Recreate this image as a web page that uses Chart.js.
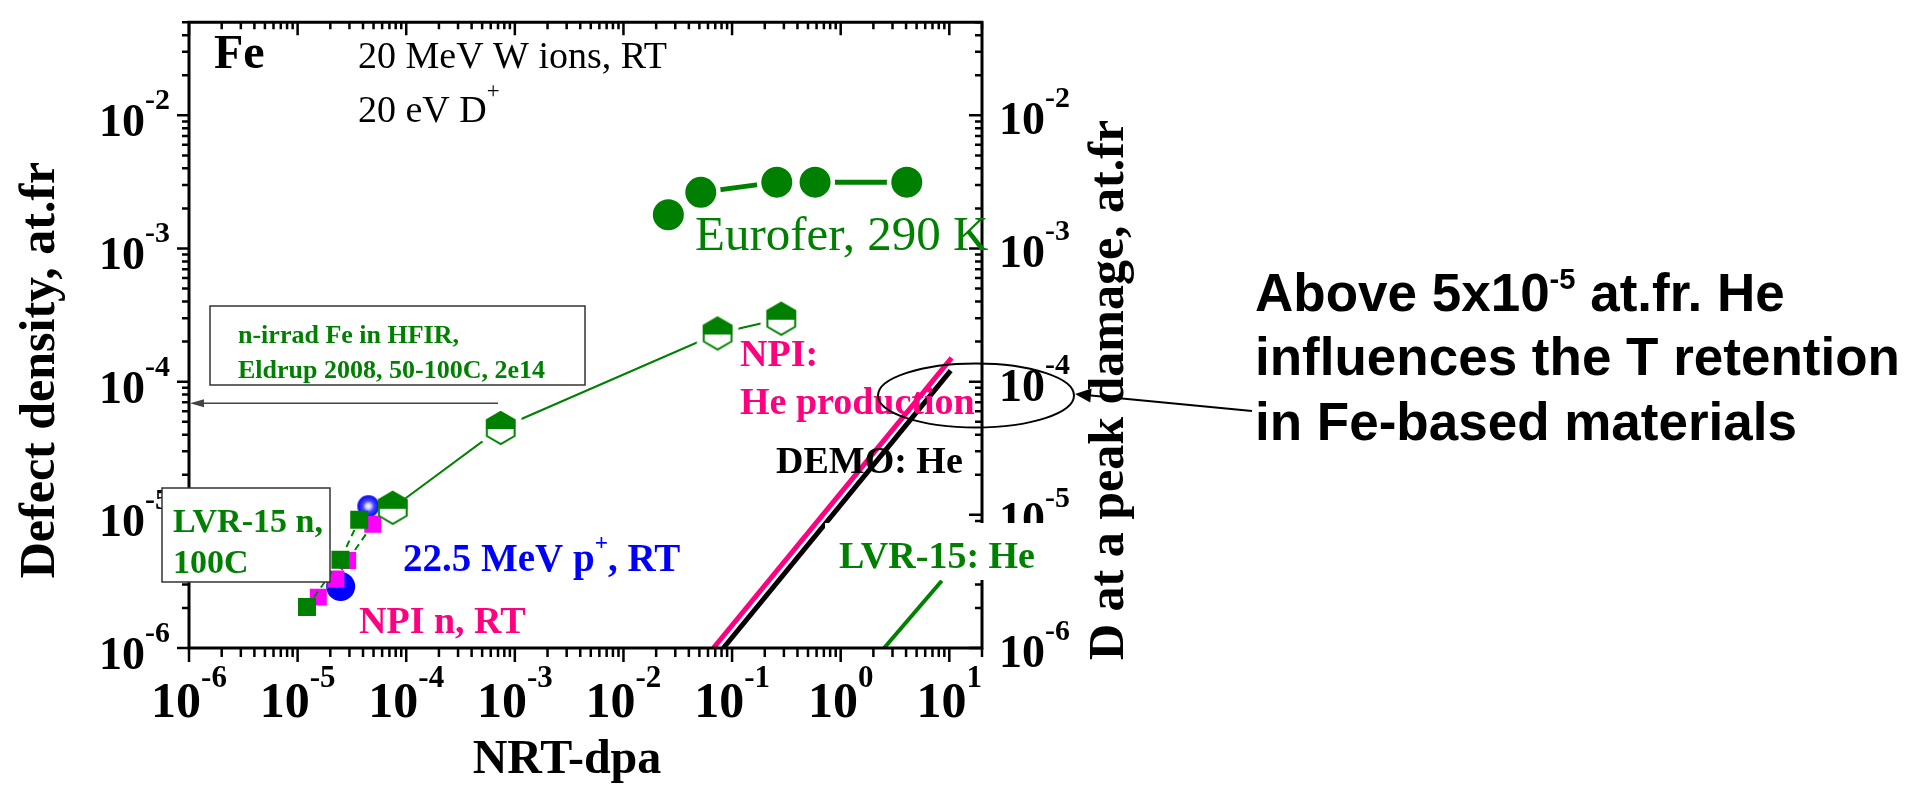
<!DOCTYPE html>
<html>
<head>
<meta charset="utf-8">
<script src="https://cdn.jsdelivr.net/npm/chart.js@4.4.1/dist/chart.umd.min.js"></script>
<style>
html, body { margin: 0; padding: 0; background: #fff; }
#chart { display: block; }
</style>
</head>
<body>
<canvas id="chart" width="1928" height="786"></canvas>
<script>
// tick exponents (labels are 10^e)
var xTickExps = [-6, -5, -4, -3, -2, -1, 0, 1];
var yTickExps = [-6, -5, -4, -3, -2];

// LVR-15 neutrons, 100C (green squares)
var lvrDpa = [1.22e-5, 2.48e-5, 3.69e-5];
var lvrDensity = [2.03e-6, 4.60e-6, 9.2e-6];

// NPI neutrons, RT (magenta squares)
var npiDpa = [1.55e-5, 2.25e-5, 2.89e-5, 4.92e-5];
var npiDensity = [2.41e-6, 3.30e-6, 4.54e-6, 8.49e-6];

// 22.5 MeV protons, RT (blue circles)
var protonDpa = [2.49e-5, 4.48e-5];
var protonDensity = [2.9e-6, 1.16e-5];

// 20 MeV W ions, RT (half filled hexagons)
var ionDpa = [7.52e-5, 7.41e-4, 0.0736, 0.284];
var ionDensity = [1.13e-5, 4.49e-5, 2.30e-4, 2.97e-4];

// Eurofer, 290 K
var euroferDpa = [0.0259, 0.0515, 0.258, 0.581, 4.06];
var euroferDensity = [1.79e-3, 2.64e-3, 3.15e-3, 3.15e-3, 3.15e-3];

// He production lines (start / end)
var npiHeDpa = [0.0673, 10.5];
var npiHeConc = [1e-6, 1.51e-4];
var demoHeDpa = [0.0832, 10.3];
var demoHeConc = [1e-6, 1.21e-4];
var lvrHeDpa = [2.51, 8.53];
var lvrHeConc = [1e-6, 3.2e-6];

// HFIR reference density pointed at on the left axis
var hfirDensity = 6.9e-5;
var hfirArrowFrom = 7e-4;

var green = '#008000', pink = '#ff0080', magenta = '#ff00ff', blue = '#0000ff';

function pts(xs, ys) {
    return xs.map(function (x, i) { return { x: x, y: ys[i] }; });
}

function serifBold(s) { return 'bold ' + s + 'px "Liberation Serif", "Times New Roman", serif'; }
function serif(s) { return s + 'px "Liberation Serif", "Times New Roman", serif'; }
function sansBold(s) { return 'bold ' + s + 'px "Liberation Sans", Arial, sans-serif'; }

// text made of runs, a run with sup:true is smaller and raised
function runs(ctx, list, x, y, fontFn, size, opt) {
    opt = opt || {};
    var supScale = opt.supScale || 0.62, rise = opt.rise || 0.55;
    var widths = list.map(function (r) {
        ctx.font = fontFn(r.sup ? size * supScale : size);
        return ctx.measureText(r.t).width;
    });
    var total = widths.reduce(function (s, w) { return s + w; }, 0);
    var cx = opt.align === 'center' ? x - total / 2 : (opt.align === 'right' ? x - total : x);
    ctx.textAlign = 'left';
    ctx.textBaseline = 'alphabetic';
    list.forEach(function (r, i) {
        ctx.font = fontFn(r.sup ? size * supScale : size);
        ctx.fillText(r.t, cx, r.sup ? y - size * rise : y);
        cx += widths[i];
    });
}

// half filled hexagon symbol, optional white halo to cut the line
function makeHex(halo) {
    var R = 17, pad = halo ? 8 : 2;
    var w = Math.ceil(R * Math.sqrt(3)) + 2 * pad, h = 2 * R + 2 * pad;
    var c = document.createElement('canvas');
    c.width = w; c.height = h;
    var g = c.getContext('2d'), cx = w / 2, cy = h / 2;
    function path(r) {
        g.beginPath();
        for (var i = 0; i < 6; i++) {
            var a = -Math.PI / 2 + i * Math.PI / 3;
            g.lineTo(cx + r * Math.cos(a), cy + r * Math.sin(a));
        }
        g.closePath();
    }
    if (halo) {
        path(R); g.strokeStyle = '#fff'; g.lineWidth = 12; g.stroke();
    }
    path(R); g.fillStyle = '#fff'; g.fill();
    g.save(); path(R); g.clip();
    g.fillStyle = green; g.fillRect(0, 0, w, cy + 1);
    g.restore();
    path(R - 1); g.strokeStyle = green; g.lineWidth = 2; g.stroke();
    return c;
}

// shaded blue ball
function makeGlow(r) {
    var c = document.createElement('canvas');
    c.width = c.height = 2 * r + 2;
    var g = c.getContext('2d'), m = r + 1;
    var grad = g.createRadialGradient(m, m, 0, m, m, r);
    grad.addColorStop(0, '#ffffff');
    grad.addColorStop(0.25, '#c8c8ff');
    grad.addColorStop(0.5, '#4a4aff');
    grad.addColorStop(1, '#0000ff');
    g.fillStyle = grad;
    g.beginPath(); g.arc(m, m, r, 0, 2 * Math.PI); g.fill();
    return c;
}

var hexPlain = makeHex(false), hexHalo = makeHex(true), glowBall = makeGlow(11);

function logTicks(min, max) {
    var out = [];
    for (var e = -7; e <= 2; e++) {
        for (var m = 1; m <= 9; m++) {
            var v = m * Math.pow(10, e);
            if (v >= min * 0.999 && v <= max * 1.001) out.push({ v: v, major: m === 1 });
        }
    }
    return out;
}

function arrow(ctx, x1, y1, x2, y2, len, half, color, lw) {
    var ang = Math.atan2(y2 - y1, x2 - x1);
    var bx = x2 - len * Math.cos(ang), by = y2 - len * Math.sin(ang);
    ctx.strokeStyle = color; ctx.fillStyle = color; ctx.lineWidth = lw;
    ctx.beginPath(); ctx.moveTo(x1, y1); ctx.lineTo(bx, by); ctx.stroke();
    ctx.beginPath();
    ctx.moveTo(x2, y2);
    ctx.lineTo(bx + half * Math.sin(ang), by - half * Math.cos(ang));
    ctx.lineTo(bx - half * Math.sin(ang), by + half * Math.cos(ang));
    ctx.closePath(); ctx.fill();
}

function box(ctx, x, y, w, h) {
    ctx.fillStyle = '#fff';
    ctx.fillRect(x, y, w, h);
    ctx.strokeStyle = '#333'; ctx.lineWidth = 1.5;
    ctx.strokeRect(x, y, w, h);
}

var decor = {
    id: 'decor',
    afterDraw: function (chart) {
        var ctx = chart.ctx, a = chart.chartArea;
        var sx = chart.scales.x, sy = chart.scales.y, sy2 = chart.scales.y2;
        ctx.save();

        // frame
        ctx.strokeStyle = '#000'; ctx.lineWidth = 3;
        ctx.strokeRect(a.left, a.top, a.right - a.left, a.bottom - a.top);

        // ticks: outward on left/bottom, inward on top/right
        ctx.lineWidth = 2.5;
        ctx.beginPath();
        logTicks(sx.min, sx.max).forEach(function (t) {
            var px = sx.getPixelForValue(t.v);
            ctx.moveTo(px, a.bottom); ctx.lineTo(px, a.bottom + (t.major ? 14 : 9));
            ctx.moveTo(px, a.top); ctx.lineTo(px, a.top + (t.major ? 13 : 7));
        });
        logTicks(sy.min, sy.max).forEach(function (t) {
            var py = sy.getPixelForValue(t.v);
            ctx.moveTo(a.left, py); ctx.lineTo(a.left - (t.major ? 12 : 7), py);
            var py2 = sy2.getPixelForValue(t.v);
            ctx.moveTo(a.right, py2); ctx.lineTo(a.right - (t.major ? 13 : 7), py2);
        });
        ctx.stroke();

        // tick labels
        ctx.fillStyle = '#000';
        xTickExps.forEach(function (e) {
            runs(ctx, [{ t: '10' }, { t: String(e), sup: true }], sx.getPixelForValue(Math.pow(10, e)), 717,
                serifBold, 50, { align: 'center', supScale: 0.62, rise: 0.6 });
        });
        yTickExps.forEach(function (e) {
            var v = Math.pow(10, e);
            runs(ctx, [{ t: '10' }, { t: String(e), sup: true }], 170, sy.getPixelForValue(v) + 21,
                serifBold, 46, { align: 'right', supScale: 0.65, rise: 0.59 });
            runs(ctx, [{ t: '10' }, { t: String(e), sup: true }], 999, sy2.getPixelForValue(v) + 19,
                serifBold, 46, { supScale: 0.65, rise: 0.59 });
        });

        // axis titles
        ctx.font = serifBold(48); ctx.textAlign = 'center';
        ctx.fillText('NRT-dpa', 567, 773);
        ctx.save(); ctx.translate(54, 370); ctx.rotate(-Math.PI / 2);
        ctx.font = serifBold(50); ctx.fillText('Defect density, at.fr', 0, 0);
        ctx.restore();
        ctx.save(); ctx.translate(1123, 390); ctx.rotate(-Math.PI / 2);
        ctx.font = serifBold(50); ctx.fillText('D at a peak damage, at.fr', 0, 0);
        ctx.restore();

        // labels inside the plot
        ctx.textAlign = 'left';
        ctx.fillStyle = '#000';
        ctx.font = serifBold(48); ctx.fillText('Fe', 214, 68);
        ctx.font = serif(38); ctx.fillText('20 MeV W ions, RT', 358, 68);
        runs(ctx, [{ t: '20 eV D' }, { t: '+', sup: true }], 358, 122, serif, 38, { supScale: 0.6, rise: 0.62 });

        ctx.fillStyle = green;
        ctx.font = serif(49); ctx.fillText('Eurofer, 290 K', 695, 250);

        ctx.fillStyle = pink;
        ctx.font = serifBold(38);
        ctx.fillText('NPI:', 740, 366);
        ctx.fillText('He production', 740, 414);
        ctx.fillText('NPI n, RT', 359, 633);

        ctx.fillStyle = '#000';
        ctx.fillText('DEMO: He', 776, 473);

        ctx.fillStyle = blue;
        runs(ctx, [{ t: '22.5 MeV p' }, { t: '+', sup: true }, { t: ', RT' }], 403, 571, serifBold, 39,
            { supScale: 0.6, rise: 0.55 });

        // boxed notes
        box(ctx, 210, 306, 375, 79);
        ctx.fillStyle = green; ctx.font = serifBold(26);
        ctx.fillText('n-irrad Fe in HFIR,', 238, 343);
        ctx.fillText('Eldrup 2008, 50-100C, 2e14', 238, 378);

        box(ctx, 162, 488, 168, 94);
        ctx.fillStyle = green; ctx.font = serifBold(34);
        ctx.fillText('LVR-15 n,', 173, 532);
        ctx.fillText('100C', 173, 573);

        ctx.fillStyle = '#fff';
        ctx.fillRect(825, 523, 222, 57);
        ctx.fillStyle = green; ctx.font = serifBold(38);
        ctx.fillText('LVR-15: He', 839, 568);

        // HFIR level on the left axis
        var hy = sy.getPixelForValue(hfirDensity);
        arrow(ctx, sx.getPixelForValue(hfirArrowFrom), hy, a.left + 1, hy, 14, 4, '#444', 1.5);

        // ellipse round 1e-4 He and the note
        ctx.strokeStyle = '#000'; ctx.lineWidth = 2;
        ctx.beginPath(); ctx.ellipse(976, 395.5, 98, 32, 0, 0, 2 * Math.PI); ctx.stroke();
        arrow(ctx, 1252, 411, 1075, 394, 16, 7, '#000', 2);

        ctx.fillStyle = '#000';
        runs(ctx, [{ t: 'Above 5x10' }, { t: '-5', sup: true }, { t: ' at.fr. He' }], 1255, 311, sansBold, 53,
            { supScale: 0.55, rise: 0.42 });
        ctx.font = sansBold(53);
        ctx.fillText('influences the T retention', 1255, 375);
        ctx.fillText('in Fe-based materials', 1255, 440);

        ctx.restore();
    }
};

new Chart(document.getElementById('chart'), {
    type: 'scatter',
    data: {
        datasets: [
            {
                data: pts(ionDpa, ionDensity),
                showLine: true, borderColor: green, borderWidth: 2,
                pointStyle: [hexPlain, hexHalo, hexHalo, hexHalo], pointRadius: 17
            },
            {
                data: pts(lvrDpa, lvrDensity),
                showLine: true, borderColor: green, borderWidth: 2, borderDash: [7, 5],
                pointStyle: 'rect', pointRadius: 12.7, pointBackgroundColor: green,
                pointBorderColor: green, pointBorderWidth: 0
            },
            {
                data: pts(npiDpa, npiDensity),
                showLine: true, borderColor: green, borderWidth: 2, borderDash: [7, 5],
                pointStyle: 'rect', pointRadius: 12, pointBackgroundColor: magenta,
                pointBorderColor: magenta, pointBorderWidth: 0
            },
            {
                data: pts(protonDpa, protonDensity),
                showLine: false,
                pointStyle: ['circle', glowBall], pointRadius: [14.5, 11],
                pointBackgroundColor: blue, pointBorderWidth: 0
            },
            {
                data: pts(euroferDpa, euroferDensity),
                showLine: true, borderColor: green, borderWidth: 5,
                pointStyle: 'circle', pointRadius: 17.75, pointBackgroundColor: green,
                pointBorderColor: '#fff', pointBorderWidth: 4.5
            },
            {
                data: pts(lvrHeDpa, lvrHeConc),
                showLine: true, borderColor: green, borderWidth: 4, pointRadius: 0
            },
            {
                data: pts(demoHeDpa, demoHeConc),
                showLine: true, borderColor: '#000', borderWidth: 5, pointRadius: 0
            },
            {
                data: pts(npiHeDpa, npiHeConc),
                showLine: true, borderColor: pink, borderWidth: 5, pointRadius: 0
            }
        ]
    },
    options: {
        responsive: false,
        animation: false,
        devicePixelRatio: 1,
        layout: { padding: { left: 189, top: 10, right: 1928 - 982, bottom: 786 - 648 } },
        plugins: { legend: { display: false }, tooltip: { enabled: false } },
        scales: {
            x: { type: 'logarithmic', min: 1e-6, max: 20, display: false },
            y: { type: 'logarithmic', min: 1e-6, max: 0.05, display: false },
            y2: { type: 'logarithmic', min: 1e-6, max: 0.05, display: false, position: 'right' }
        }
    },
    plugins: [decor]
});
</script>
</body>
</html>
